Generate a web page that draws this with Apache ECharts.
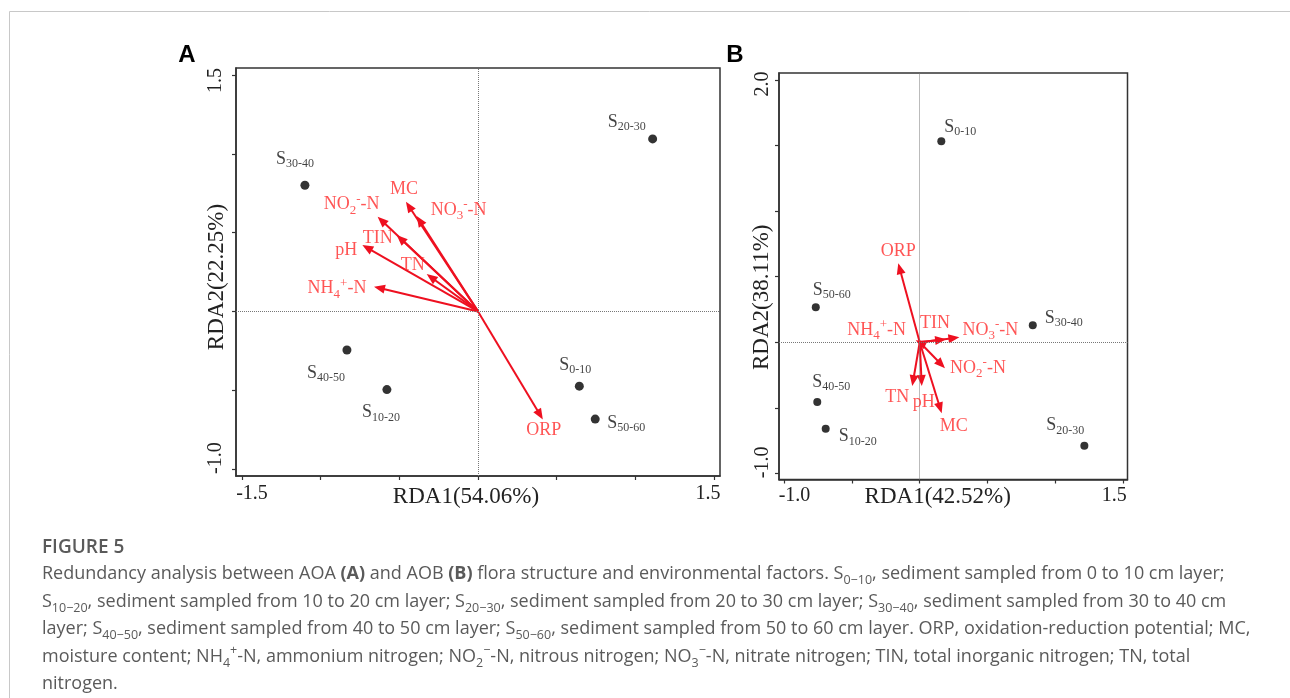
<!DOCTYPE html>
<html><head><meta charset="utf-8">
<script src="https://cdn.jsdelivr.net/npm/echarts@6/dist/echarts.min.js"></script>
<style>html,body{margin:0;padding:0;background:#fff}#c{width:1290px;height:698px}</style>
</head><body><div id="c"></div>
<script>
// ---------- data ----------
const siteSubs = ['0-10', '10-20', '20-30', '30-40', '40-50', '50-60'];
const aSiteX = [0.644, -0.579, 1.11, -1.10, -0.833, 0.745];
const aSiteY = [-0.474, -0.496, 1.094, 0.80, -0.245, -0.683];
const bSiteX = [0.159, -0.693, 1.213, 0.833, -0.755, -0.766];
const bSiteY = [1.532, -0.660, -0.789, 0.129, -0.456, 0.266];

const envNames = ['ORP', 'MC', 'NH4+-N', 'NO2--N', 'NO3--N', 'TIN', 'TN', 'pH'];
const envRich = ['ORP', 'MC', 'NH{b|4}{p|+}-N', 'NO{b|2}{p|-}-N', 'NO{b|3}{p|-}-N', 'TIN', 'TN', 'pH'];
const aEnvX = [0.412, -0.458, -0.661, -0.638, -0.39, -0.517, -0.326, -0.735];
const aEnvY = [-0.685, 0.696, 0.157, 0.601, 0.605, 0.485, 0.237, 0.421];
const bEnvX = [-0.158, 0.162, -0.03, 0.186, 0.292, 0.194, -0.055, 0.015];
const bEnvY = [0.602, -0.542, 0.015, -0.199, 0.037, 0.022, -0.334, -0.334];

const axisTitlesA = ['RDA1(54.06%)', 'RDA2(22.25%)'];
const axisTitlesB = ['RDA1(42.52%)', 'RDA2(38.11%)'];
const aXTicks = [-1.5, -1, -0.5, 0, 0.5, 1, 1.5];
const aYTicks = [-1, -0.5, 0, 0.5, 1, 1.5];
const bXTicks = [-1, -0.5, 0, 0.5, 1, 1.5];
const bYTicks = [-1, -0.5, 0, 0.5, 1, 1.5, 2];
const aXLabels = [-1.5, 1.5];
const aYLabels = [-1.0, 1.5];
const bXLabels = [-1.0, 1.5];
const bYLabels = [-1.0, 2.0];

// ---------- layout (pixel offsets for labels) ----------
const aSiteOff = [[-4, -21], [-6, 23], [-26, -17], [-10, -26], [-21, 23], [31, 4]];
const bSiteOff = [[19, -14], [32, 8], [-19, -20], [31, -7], [14, -20], [16, -17]];
const aEnvOff = [[1, 11], [-2, -12], [-37, 2], [-26, -12], [42, -6], [-19, 3], [-14, -9], [-16, 5]];
const bEnvOff = [[0, -12], [12, 13], [-39, -10], [33, 0], [31, -7], [-11, -16], [-15, 11], [2, 16]];

const SERIF = '"Liberation Serif", "Times New Roman", serif';
const RED = '#ee1020';
const RED_TXT = '#ff2b2b';
const INK = '#222';

const panels = [
  { grid: { left: 236, top: 68, width: 484, height: 408 },
    xr: [-1.538, 1.538], yr: [-1.044, 1.544],
    xt: aXTicks, yt: aYTicks, xl: aXLabels, yl: aYLabels,
    titles: axisTitlesA, sx: aSiteX, sy: aSiteY, so: aSiteOff,
    ex: aEnvX, ey: aEnvY, eo: aEnvOff, pt: 9, head: [11, 4.5], lw: 2,
    xShift: [10, -6], yShift: [-11, 5.5], xName: { gap: 9, pad: [0, 24, 0, 0] }, yName: { gap: 8, pad: [0, 10, 0, 0] },
    xMargin: 8, yMargin: 10 },
  { grid: { left: 779, top: 73, width: 348.5, height: 406.5 },
    xr: [-1.037, 1.531], yr: [-1.047, 2.053],
    xt: bXTicks, yt: bYTicks, xl: bXLabels, yl: bYLabels,
    titles: axisTitlesB, sx: bSiteX, sy: bSiteY, so: bSiteOff,
    ex: bEnvX, ey: bEnvY, eo: bEnvOff, pt: 8, head: [11, 4.5], lw: 2,
    xShift: [10.5, -9], yShift: [-11, 4], xName: { gap: 6, pad: [0, 31, 0, 0] }, yName: { gap: 6, pad: [0, 42, 0, 0] },
    xMargin: 6, yMargin: 6 }
];

function shiftRich(shiftMin, shiftMax, rotated) {
  const base = { fontFamily: SERIF, fontSize: 20, color: INK };
  const mn = Object.assign({}, base), mx = Object.assign({}, base);
  if (!rotated) {
    mn.padding = shiftMin >= 0 ? [0, 0, 0, 2 * shiftMin] : [0, -2 * shiftMin, 0, 0];
    mx.padding = shiftMax >= 0 ? [0, 0, 0, 2 * shiftMax] : [0, -2 * shiftMax, 0, 0];
  } else {
    mn.padding = shiftMin >= 0 ? [0, 2 * shiftMin, 0, 0] : [0, 0, 0, -2 * shiftMin];
    mx.padding = shiftMax >= 0 ? [0, 2 * shiftMax, 0, 0] : [0, 0, 0, -2 * shiftMax];
  }
  return { mn, mx };
}

const grids = [], xAxes = [], yAxes = [], series = [];
panels.forEach((p, i) => {
  grids.push(Object.assign({ show: true, borderColor: '#333', borderWidth: 1.5, backgroundColor: 'transparent' }, p.grid));
  const xmin = p.xl[0], ymin = p.yl[0];
  xAxes.push({
    gridIndex: i, type: 'value', min: p.xr[0], max: p.xr[1],
    axisLine: { show: true, onZero: false, lineStyle: { color: '#333', width: 1.5 } },
    axisTick: { show: true, customValues: p.xt, length: 4, lineStyle: { color: '#333', width: 1.2 } },
    axisLabel: { show: true, customValues: p.xl, margin: p.xMargin,
      formatter: v => (Math.abs(v - xmin) < 1e-9 ? '{mn|' : '{mx|') + v.toFixed(1) + '}',
      rich: shiftRich(p.xShift[0], p.xShift[1], false) },
    splitLine: { show: false },
    name: p.titles[0], nameLocation: 'middle', nameGap: p.xName.gap, nameMoveOverlap: false,
    nameTextStyle: { fontFamily: SERIF, fontSize: 23, color: INK, padding: p.xName.pad }
  });
  yAxes.push({
    gridIndex: i, type: 'value', min: p.yr[0], max: p.yr[1],
    axisLine: { show: true, onZero: false, lineStyle: { color: '#333', width: 1.5 } },
    axisTick: { show: true, customValues: p.yt, length: 4, lineStyle: { color: '#333', width: 1.2 } },
    axisLabel: { show: true, customValues: p.yl, rotate: 90, margin: p.yMargin,
      formatter: v => (Math.abs(v - ymin) < 1e-9 ? '{mn|' : '{mx|') + v.toFixed(1) + '}',
      rich: shiftRich(p.yShift[0], p.yShift[1], true) },
    splitLine: { show: false },
    name: p.titles[1], nameLocation: 'middle', nameGap: p.yName.gap, nameRotate: 90, nameMoveOverlap: false,
    nameTextStyle: { fontFamily: SERIF, fontSize: 23, color: INK, padding: p.yName.pad }
  });

  series.push({
    type: 'scatter', xAxisIndex: i, yAxisIndex: i, z: 2,
    symbol: 'circle', symbolSize: p.pt, itemStyle: { color: '#000' },
    data: siteSubs.map((s, k) => ({
      value: [p.sx[k], p.sy[k]], name: 'S' + s,
      label: { offset: p.so[k] }
    })),
    label: {
      show: true, position: 'inside',
      formatter: params => 'S{b|' + siteSubs[params.dataIndex] + '}',
      fontFamily: SERIF, fontSize: 18, lineHeight: 22, color: '#111',
      rich: { b: { fontFamily: SERIF, fontSize: 12, lineHeight: 12, verticalAlign: 'bottom', color: '#111' } }
    },
    markLine: {
      silent: true, symbol: 'none', animation: false, label: { show: false },
      lineStyle: { type: 'dotted', color: '#777', width: 1 },
      data: [{ xAxis: 0 }, { yAxis: 0 }]
    }
  });

  series.push({
    type: 'custom', xAxisIndex: i, yAxisIndex: i, z: 4,
    data: envNames.map((n, k) => [p.ex[k], p.ey[k]]),
    renderItem: (params, api) => {
      const p0 = api.coord([0, 0]);
      const p1 = api.coord([api.value(0), api.value(1)]);
      const dx = p1[0] - p0[0], dy = p1[1] - p0[1];
      const len = Math.hypot(dx, dy) || 1;
      const ux = dx / len, uy = dy / len;
      const hl = p.head[0], hw = p.head[1];
      const bx = p1[0] - ux * hl, by = p1[1] - uy * hl;
      return { type: 'group', children: [
        { type: 'line', shape: { x1: p0[0], y1: p0[1], x2: p1[0] - ux * hl * 0.6, y2: p1[1] - uy * hl * 0.6 },
          style: { stroke: RED, lineWidth: p.lw } },
        { type: 'polygon', shape: { points: [[p1[0], p1[1]], [bx - uy * hw, by + ux * hw], [bx + uy * hw, by - ux * hw]] },
          style: { fill: RED } }
      ] };
    }
  });

  series.push({
    type: 'scatter', xAxisIndex: i, yAxisIndex: i, z: 5,
    symbol: 'circle', symbolSize: 1, itemStyle: { color: 'rgba(0,0,0,0)' },
    data: envNames.map((n, k) => ({ value: [p.ex[k], p.ey[k]], name: n, label: { offset: p.eo[k] } })),
    label: {
      show: true, position: 'inside',
      formatter: params => envRich[params.dataIndex],
      fontFamily: SERIF, fontSize: 18, lineHeight: 24, color: RED_TXT,
      rich: {
        b: { fontFamily: SERIF, fontSize: 13, lineHeight: 13, verticalAlign: 'bottom', color: RED_TXT },
        p: { fontFamily: SERIF, fontSize: 13, lineHeight: 13, verticalAlign: 'top', color: RED_TXT }
      }
    }
  });
});

// ---------- caption ----------
const captionTitle = 'FIGURE 5';
const captionLines = [
  'Redundancy analysis between AOA {b|(A)} and AOB {b|(B)} flora structure and environmental factors. S{s|0\u221210}, sediment sampled from 0 to 10 cm layer;',
  'S{s|10\u221220}, sediment sampled from 10 to 20 cm layer; S{s|20\u221230}, sediment sampled from 20 to 30 cm layer; S{s|30\u221240}, sediment sampled from 30 to 40 cm',
  'layer; S{s|40\u221250}, sediment sampled from 40 to 50 cm layer; S{s|50\u221260}, sediment sampled from 50 to 60 cm layer. ORP, oxidation-reduction potential; MC,',
  'moisture content; NH{s|4}{p|+}-N, ammonium nitrogen; NO{s|2}{p|\u2212}-N, nitrous nitrogen; NO{s|3}{p|\u2212}-N, nitrate nitrogen; TIN, total inorganic nitrogen; TN, total',
  'nitrogen.'
];
const CAP_FONT = '"Open Sans", "Noto Sans", sans-serif';
const CAP_COLOR = '#5a5a5a';
const CAP_SIZE = 18;
const capRich = {
  b: { fontFamily: CAP_FONT, fontSize: CAP_SIZE, fontWeight: 'bold', color: CAP_COLOR, lineHeight: 26 },
  s: { fontFamily: CAP_FONT, fontSize: 12.5, color: CAP_COLOR, lineHeight: 13, verticalAlign: 'bottom' },
  p: { fontFamily: CAP_FONT, fontSize: 12.5, color: CAP_COLOR, lineHeight: 13, verticalAlign: 'top' }
};
const graphics = [
  { type: 'polyline', silent: true, shape: { points: [[9.5, 698], [9.5, 11.5], [1290, 11.5]] },
    style: { stroke: '#c8c8c8', lineWidth: 1, fill: null } },
  { type: 'text', x: 187, y: 55, style: { text: 'A', font: 'bold 24px "Liberation Sans", Arial, sans-serif', fill: '#000', align: 'center', verticalAlign: 'middle' } },
  { type: 'text', x: 735, y: 55, style: { text: 'B', font: 'bold 24px "Liberation Sans", Arial, sans-serif', fill: '#000', align: 'center', verticalAlign: 'middle' } },
  { type: 'text', x: 42, y: 548, style: { text: captionTitle, font: '600 19px ' + CAP_FONT, fill: CAP_COLOR, verticalAlign: 'middle' } }
];
captionLines.forEach((t, k) => {
  graphics.push({ type: 'text', x: 42, y: 574 + k * 27.5,
    style: { text: t, font: CAP_SIZE + 'px ' + CAP_FONT, fill: CAP_COLOR, lineHeight: 26, verticalAlign: 'middle', rich: capRich } });
});

const chart = echarts.init(document.getElementById('c'), null, { renderer: 'canvas' });
chart.setOption({
  animation: false,
  backgroundColor: '#fff',
  grid: grids, xAxis: xAxes, yAxis: yAxes, series: series, graphic: graphics
});
</script>
</body></html>
